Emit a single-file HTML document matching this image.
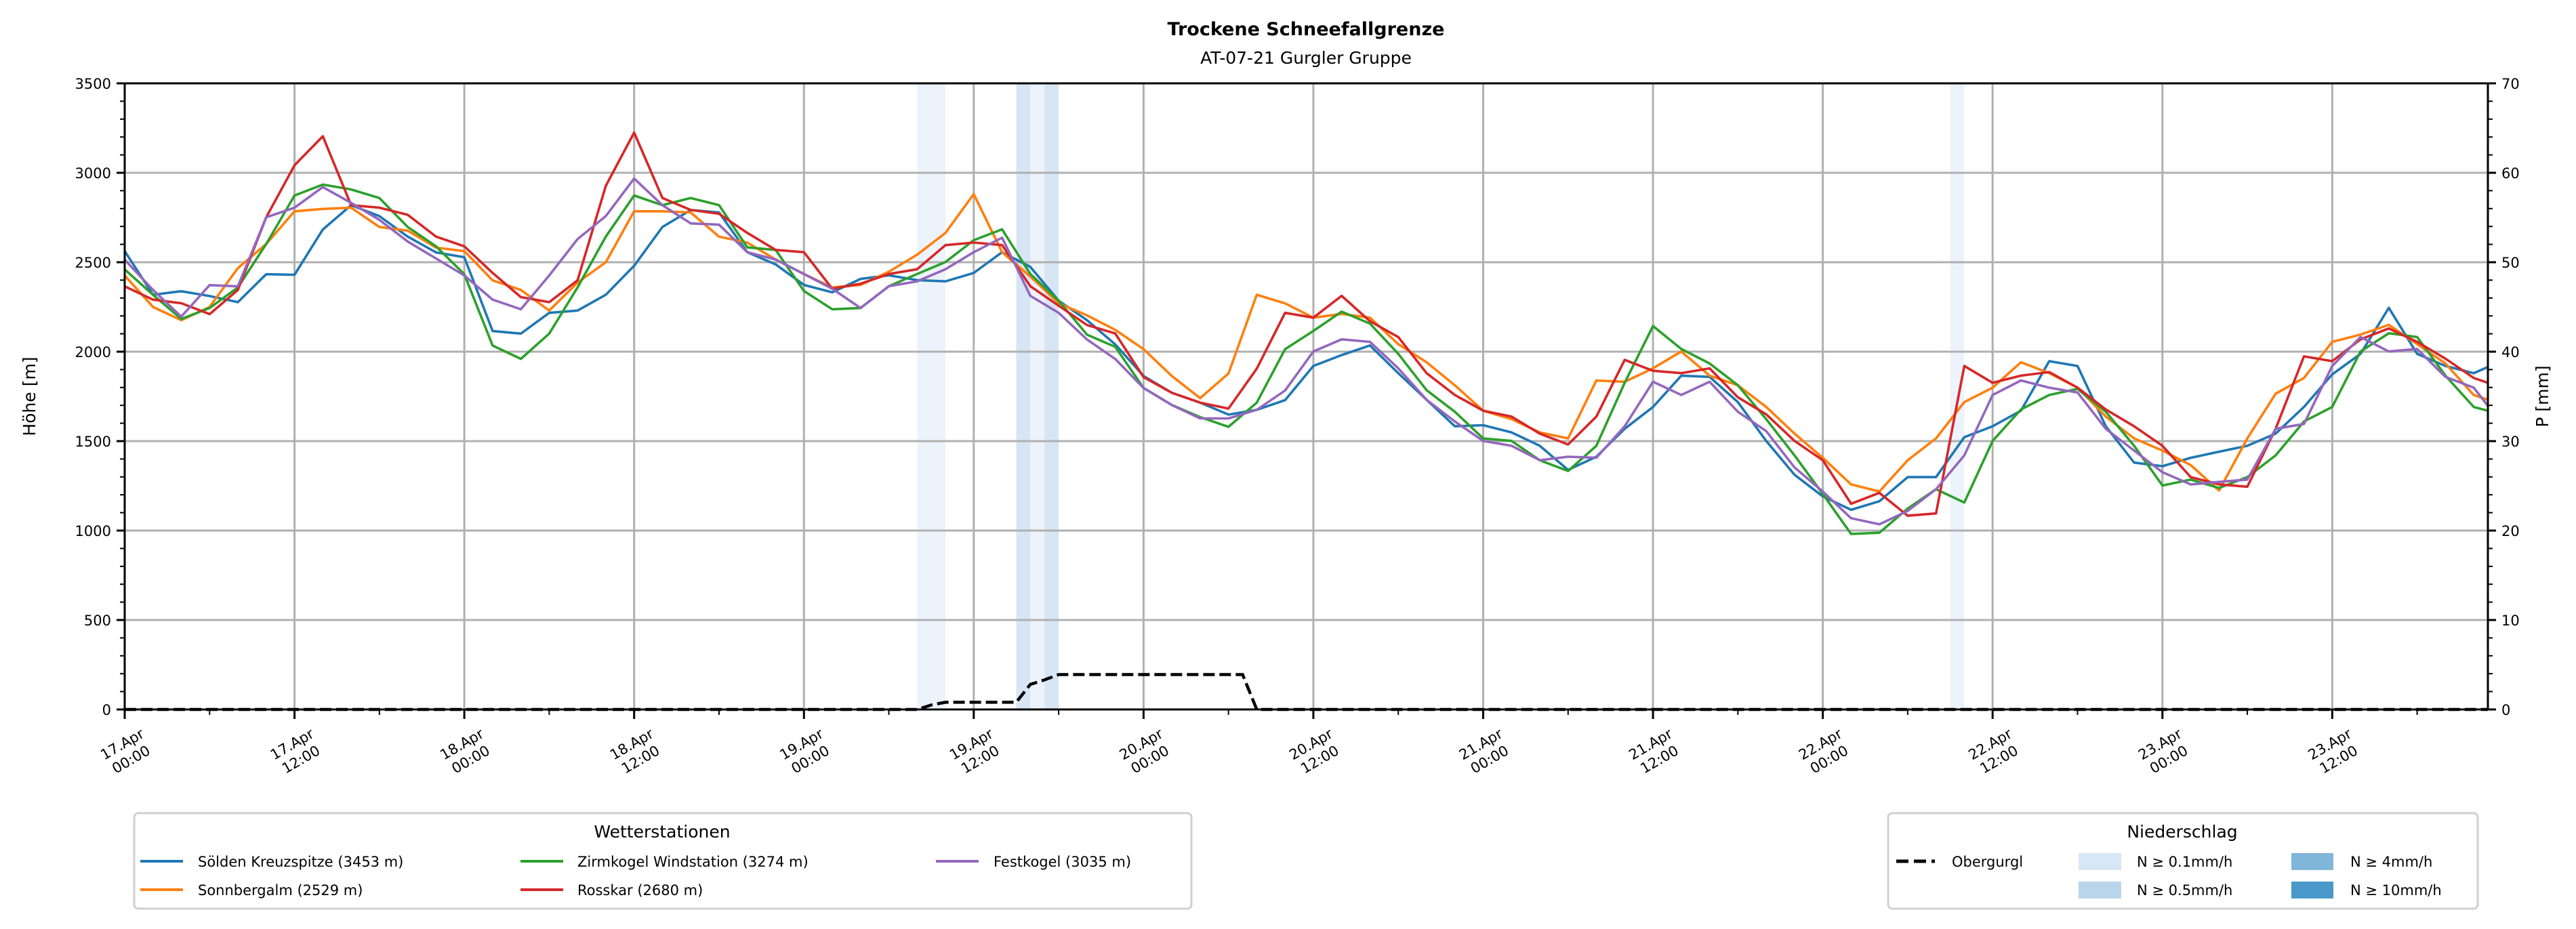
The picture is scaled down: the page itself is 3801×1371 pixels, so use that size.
<!DOCTYPE html>
<html><head><meta charset="utf-8"><style>
html,body{margin:0;padding:0;background:#fff}
svg{display:block;font-family:"DejaVu Sans","Liberation Sans",sans-serif}
</style></head><body>
<svg id="chart" width="3801" height="1371" viewBox="0 0 3801 1371">
<text x="1927" y="52" text-anchor="middle" font-size="27" font-weight="bold">Trockene Schneefallgrenze</text>
<text x="1927" y="94" text-anchor="middle" font-size="25">AT-07-21 Gurgler Gruppe</text>
<g id="bands"></g><g id="grid"></g><g id="series"></g><g id="axes"></g>
<text transform="translate(52,585) rotate(-90)" text-anchor="middle" font-size="25">Höhe [m]</text>
<text transform="translate(3760,585) rotate(-90)" text-anchor="middle" font-size="25">P [mm]</text>
<g>
<rect x="198" y="1200" width="1560" height="141" rx="6" fill="#fff" stroke="#d0d0d0" stroke-width="3"/>
<text x="977" y="1236" text-anchor="middle" font-size="25">Wetterstationen</text>
<line x1="207" y1="1271" x2="270" y2="1271" stroke="#1f77b4" stroke-width="4"/><text x="292" y="1279" font-size="21">Sölden Kreuzspitze (3453 m)</text>
<line x1="207" y1="1313" x2="270" y2="1313" stroke="#ff7f0e" stroke-width="4"/><text x="292" y="1321" font-size="21">Sonnbergalm (2529 m)</text>
<line x1="768" y1="1271" x2="831" y2="1271" stroke="#2ca02c" stroke-width="4"/><text x="852" y="1279" font-size="21">Zirmkogel Windstation (3274 m)</text>
<line x1="768" y1="1313" x2="831" y2="1313" stroke="#d62728" stroke-width="4"/><text x="852" y="1321" font-size="21">Rosskar (2680 m)</text>
<line x1="1381" y1="1271" x2="1444" y2="1271" stroke="#9467bd" stroke-width="4"/><text x="1466" y="1279" font-size="21">Festkogel (3035 m)</text>
</g>
<g>
<rect x="2786" y="1200" width="870" height="141" rx="6" fill="#fff" stroke="#d0d0d0" stroke-width="3"/>
<text x="3220" y="1236" text-anchor="middle" font-size="25">Niederschlag</text>
<line x1="2798" y1="1271" x2="2855" y2="1271" stroke="#000" stroke-width="5" stroke-dasharray="18,8"/><text x="2880" y="1279" font-size="21">Obergurgl</text>
<rect x="3067" y="1259" width="63" height="25" fill="#d8e7f5"/><text x="3153" y="1279" font-size="21">N ≥ 0.1mm/h</text>
<rect x="3067" y="1301" width="63" height="25" fill="#b9d5ea"/><text x="3153" y="1321" font-size="21">N ≥ 0.5mm/h</text>
<rect x="3381" y="1259" width="62" height="25" fill="#80b6da"/><text x="3468" y="1279" font-size="21">N ≥ 4mm/h</text>
<rect x="3381" y="1301" width="62" height="25" fill="#4a98c9"/><text x="3468" y="1321" font-size="21">N ≥ 10mm/h</text>
</g>
</svg>
<script>
const hours=[0,2,4,6,8,10,12,14,16,18,20,22,24,26,28,30,32,34,36,38,40,42,44,46,48,50,52,54,56,58,60,62,64,66,68,70,72,74,76,78,80,82,84,86,88,90,92,94,96,98,100,102,104,106,108,110,112,114,116,118,120,122,124,126,128,130,132,134,136,138,140,142,144,146,148,150,152,154,156,158,160,162,164,166,167];
const soelden=[2562,2318,2338,2311,2277,2433,2430,2683,2819,2758,2643,2555,2528,2115,2101,2217,2230,2318,2480,2697,2792,2778,2556,2488,2373,2332,2407,2427,2400,2393,2440,2556,2474,2285,2176,2041,1864,1770,1715,1648,1675,1729,1920,1981,2035,1880,1731,1583,1589,1549,1474,1339,1413,1569,1691,1866,1859,1718,1501,1312,1191,1116,1164,1299,1299,1522,1583,1670,1947,1920,1583,1380,1360,1407,1441,1474,1542,1691,1873,1988,2245,1988,1920,1880,1914];
const sonnbergalm=[2426,2250,2176,2250,2467,2602,2785,2798,2805,2697,2677,2582,2562,2399,2345,2230,2386,2500,2785,2785,2778,2643,2610,2515,2434,2359,2373,2447,2542,2664,2881,2556,2420,2271,2203,2122,2014,1864,1740,1878,2318,2270,2190,2211,2190,2042,1941,1812,1670,1623,1549,1515,1839,1832,1907,2001,1866,1812,1691,1542,1407,1258,1218,1393,1515,1718,1799,1941,1880,1799,1637,1515,1447,1366,1224,1515,1765,1853,2055,2096,2150,2042,1934,1758,1731];
const zirmkogel=[2460,2318,2183,2244,2359,2602,2873,2934,2907,2859,2697,2589,2433,2034,1960,2101,2359,2643,2873,2819,2859,2819,2583,2569,2339,2237,2244,2366,2434,2501,2623,2684,2434,2285,2095,2027,1797,1702,1634,1580,1715,2014,2116,2224,2157,1988,1785,1664,1515,1501,1393,1333,1474,1826,2143,2015,1934,1812,1623,1420,1204,981,988,1123,1231,1157,1501,1677,1758,1792,1664,1474,1252,1285,1238,1299,1420,1610,1691,2001,2103,2082,1866,1691,1670];
const rosskar=[2365,2291,2271,2210,2345,2751,3042,3204,2819,2805,2765,2643,2589,2440,2305,2277,2399,2927,3225,2859,2792,2771,2664,2569,2556,2352,2380,2434,2461,2596,2610,2596,2366,2257,2149,2102,1858,1770,1715,1682,1905,2217,2190,2312,2170,2082,1880,1758,1670,1637,1542,1481,1637,1954,1893,1880,1907,1745,1650,1501,1393,1150,1211,1083,1096,1920,1826,1866,1886,1799,1677,1583,1474,1299,1258,1245,1569,1974,1947,2069,2130,2055,1961,1853,1826];
const festkogel=[2514,2345,2196,2372,2365,2751,2805,2920,2832,2737,2616,2521,2426,2291,2237,2426,2629,2758,2968,2819,2717,2710,2556,2515,2434,2352,2244,2366,2393,2461,2556,2637,2312,2217,2068,1959,1797,1702,1627,1627,1675,1783,2001,2069,2055,1907,1731,1610,1501,1474,1393,1413,1407,1583,1832,1758,1832,1664,1556,1353,1218,1069,1035,1110,1231,1420,1758,1839,1799,1772,1569,1447,1326,1258,1272,1285,1569,1596,1920,2082,2001,2015,1859,1799,1697];
const precipHours=[0,56,57,58,63,64,65,66,79,80,167];
const precipMM=[0,0,0.5,0.8,0.8,2.8,3.3,3.9,3.9,0,0];
const bandStart=[56,63,64,65,129];
const bandEnd=[58,64,65,66,130];
const bandLevel=[0,1,0,1,0];
const yTicks=[0,500,1000,1500,2000,2500,3000,3500];
const pTicks=[0,10,20,30,40,50,60,70];
const xTickLabels=[["17.Apr","00:00"],["17.Apr","12:00"],["18.Apr","00:00"],["18.Apr","12:00"],["19.Apr","00:00"],["19.Apr","12:00"],["20.Apr","00:00"],["20.Apr","12:00"],["21.Apr","00:00"],["21.Apr","12:00"],["22.Apr","00:00"],["22.Apr","12:00"],["23.Apr","00:00"],["23.Apr","12:00"]];

const NS="http://www.w3.org/2000/svg";
const L=184,R=3671,T=123,B=1047;
const X=h=>L+h*(R-L)/167;
const Y=v=>B-v*(B-T)/3500;
const YP=p=>B-p*(B-T)/70;
function mk(tag,attrs,parent){const e=document.createElementNS(NS,tag);for(const k in attrs)e.setAttribute(k,attrs[k]);parent.appendChild(e);return e;}
const gB=document.getElementById('bands'),gG=document.getElementById('grid'),gS=document.getElementById('series'),gA=document.getElementById('axes');
const bandCol=['#edf3fb','#d6e6f4'];
bandStart.forEach((s,i)=>{const r=mk('rect',{x:X(s),y:T,width:X(bandEnd[i])-X(s),height:B-T,fill:bandCol[bandLevel[i]]},gB);

});
yTicks.forEach(v=>{if(v>0&&v<3500){const l=mk('line',{x1:L,x2:R,y1:Y(v),y2:Y(v),stroke:'#b0b0b0','stroke-width':3},gG);

}});
xTickLabels.forEach((lab,i)=>{const x=X(i*12);if(i>0){const l=mk('line',{x1:x,x2:x,y1:T,y2:B,stroke:'#b0b0b0','stroke-width':3},gG);

}});
const series=[[soelden,'#1f77b4','line-soelden'],[sonnbergalm,'#ff7f0e','line-sonnbergalm'],[zirmkogel,'#2ca02c','line-zirmkogel'],[rosskar,'#d62728','line-rosskar'],[festkogel,'#9467bd','line-festkogel']];
series.forEach(([d,c,n])=>{const p=mk('polyline',{points:d.map((v,i)=>X(hours[i]).toFixed(1)+','+Y(v).toFixed(1)).join(' '),fill:'none',stroke:c,'stroke-width':3.6,'stroke-linejoin':'round'},gS);

});
const pl=mk('polyline',{points:precipHours.map((h,i)=>X(h).toFixed(1)+','+YP(precipMM[i]).toFixed(1)).join(' '),fill:'none',stroke:'#000','stroke-width':4.5,'stroke-dasharray':'17,7'},gS);


const fr=mk('rect',{x:L,y:T,width:R-L,height:B-T,fill:'none',stroke:'#000','stroke-width':3},gA);


for(let v=0;v<=3500;v+=100){const major=v%500===0;mk('line',{x1:L,x2:L-(major?12:7),y1:Y(v),y2:Y(v),stroke:'#000','stroke-width':major?3:2},gA);}
yTicks.forEach(v=>{const t=mk('text',{x:L-20,y:Y(v)+8,'text-anchor':'end','font-size':21},gA);t.textContent=v;

});
for(let p=0;p<=70;p+=2){const major=p%10===0;mk('line',{x1:R,x2:R+(major?12:7),y1:YP(p),y2:YP(p),stroke:'#000','stroke-width':major?3:2},gA);}
pTicks.forEach(p=>{const t=mk('text',{x:R+20,y:YP(p)+8,'font-size':21},gA);t.textContent=p;

});
for(let h=0;h<=166;h+=6){const major=h%12===0;mk('line',{x1:X(h),x2:X(h),y1:B,y2:B+(major?14:8),stroke:'#000','stroke-width':major?3:2},gA);}
xTickLabels.forEach((lab,i)=>{const x=X(i*12);const t=mk('text',{transform:'translate('+(x+2)+',1108) rotate(-30)','text-anchor':'middle','font-size':21},gA);


const a=mk('tspan',{x:0,y:-4},t);a.textContent=lab[0];const b=mk('tspan',{x:0,y:22},t);b.textContent=lab[1];});
</script>
</body></html>
